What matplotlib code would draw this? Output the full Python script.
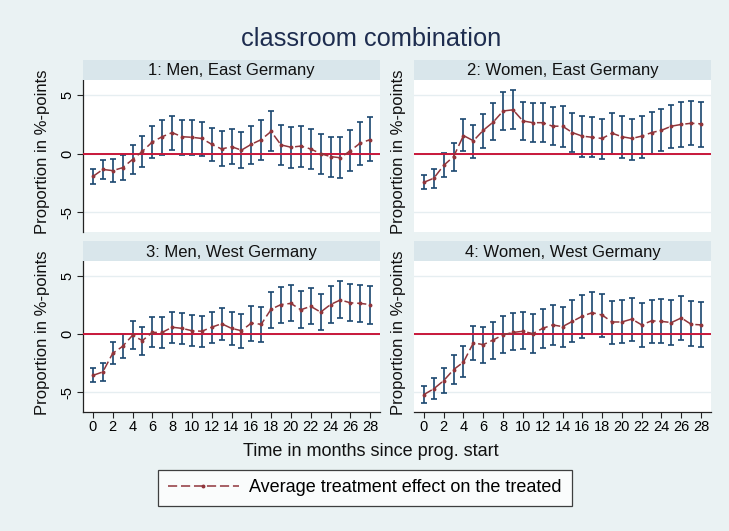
import numpy as np
import matplotlib
matplotlib.use("Agg")
import matplotlib.pyplot as plt
from matplotlib.lines import Line2D

plt.rcParams['font.family'] = ['Liberation Sans', 'DejaVu Sans']

months = list(range(29))
panel_titles = ["1: Men, East Germany", "2: Women, East Germany",
                "3: Men, West Germany", "4: Women, West Germany"]
title = "classroom combination"
xlabel = "Time in months since prog. start"
ylabel = "Proportion in %-points"
legend_label = "Average treatment effect on the treated"
yticks = [-5, 0, 5]
xticks = list(range(0, 29, 2))

ate_men_east = [-1.95, -1.35, -1.45, -1.2, -0.5, 0.2, 1.0, 1.45, 1.8, 1.45, 1.4, 1.3, 0.8, 0.4, 0.6,
                0.3, 0.8, 1.2, 1.9, 0.75, 0.55, 0.65, 0.4, 0.0, -0.25, -0.35, 0.25, 0.9, 1.2]
hi_men_east = [-1.3, -0.5, -0.45, -0.15, 0.7, 1.5, 2.35, 2.85, 3.25, 2.9, 2.85, 2.7, 2.2, 1.9, 2.1,
               1.85, 2.35, 2.85, 3.65, 2.45, 2.3, 2.4, 2.1, 1.7, 1.45, 1.45, 2.0, 2.7, 3.1]
lo_men_east = [-2.6, -2.15, -2.4, -2.25, -1.7, -1.1, -0.4, -0.1, 0.3, -0.1, -0.1, -0.2, -0.65, -1.05, -0.9,
               -1.25, -0.9, -0.5, 0.2, -1.0, -1.2, -1.1, -1.3, -1.7, -2.0, -2.05, -1.5, -0.95, -0.65]

ate_women_east = [-2.45, -2.1, -1.0, -0.25, 1.55, 1.1, 2.0, 2.7, 3.65, 3.75, 2.8, 2.65, 2.65, 2.35, 2.35,
                  1.8, 1.5, 1.4, 1.3, 1.75, 1.45, 1.3, 1.5, 1.8, 2.0, 2.35, 2.5, 2.6, 2.55]
hi_women_east = [-1.85, -1.3, 0.05, 0.9, 2.95, 2.45, 3.4, 4.3, 5.3, 5.45, 4.45, 4.3, 4.3, 4.0, 4.05,
                 3.45, 3.2, 3.1, 3.0, 3.5, 3.2, 3.0, 3.25, 3.6, 3.85, 4.2, 4.4, 4.5, 4.45]
lo_women_east = [-3.05, -2.95, -2.0, -1.45, 0.2, -0.35, 0.45, 1.15, 2.0, 2.1, 1.2, 1.0, 1.0, 0.7, 0.6,
                 0.1, -0.25, -0.3, -0.45, -0.05, -0.4, -0.5, -0.35, 0.0, 0.2, 0.45, 0.55, 0.7, 0.55]

ate_men_west = [-3.55, -3.25, -1.65, -1.05, -0.1, -0.55, 0.15, 0.15, 0.6, 0.5, 0.3, 0.25, 0.6, 0.9, 0.5,
                0.3, 0.95, 0.85, 2.15, 2.55, 2.65, 2.1, 2.4, 1.9, 2.55, 2.95, 2.7, 2.65, 2.55]
hi_men_west = [-2.95, -2.5, -0.7, 0.05, 1.1, 0.65, 1.45, 1.45, 1.9, 1.85, 1.65, 1.55, 1.9, 2.25, 1.9,
               1.75, 2.45, 2.35, 3.65, 4.05, 4.2, 3.7, 3.95, 3.45, 4.15, 4.55, 4.3, 4.25, 4.15]
lo_men_west = [-4.15, -4.0, -2.6, -2.05, -1.25, -1.75, -1.1, -1.15, -0.75, -0.85, -1.0, -1.1, -0.8, -0.5, -0.9,
               -1.15, -0.55, -0.65, 0.55, 1.0, 1.1, 0.55, 0.9, 0.35, 1.0, 1.35, 1.1, 1.05, 0.9]

ate_women_west = [-5.2, -4.7, -4.0, -3.05, -2.4, -0.75, -0.9, -0.5, -0.05, 0.15, 0.25, 0.05, 0.5, 0.8, 0.65,
                  1.1, 1.55, 1.85, 1.65, 1.05, 1.05, 1.3, 0.8, 1.15, 1.1, 1.0, 1.4, 0.85, 0.8]
hi_women_west = [-4.5, -3.75, -2.9, -1.8, -1.05, 0.7, 0.6, 1.05, 1.55, 1.85, 1.95, 1.7, 2.2, 2.55, 2.35,
                 2.9, 3.35, 3.65, 3.5, 2.85, 2.9, 3.15, 2.7, 2.95, 3.0, 2.9, 3.3, 2.85, 2.8]
lo_women_west = [-5.95, -5.6, -5.1, -4.25, -3.7, -2.2, -2.45, -2.1, -1.65, -1.4, -1.3, -1.6, -1.2, -0.9, -1.1,
                 -0.65, -0.3, 0.0, -0.25, -0.85, -0.8, -0.6, -1.1, -0.75, -0.75, -0.9, -0.5, -1.05, -1.1]

series = [(ate_men_east, lo_men_east, hi_men_east),
          (ate_women_east, lo_women_east, hi_women_east),
          (ate_men_west, lo_men_west, hi_men_west),
          (ate_women_west, lo_women_west, hi_women_west)]

BG = '#EAF2F3'
BAND = '#D9E6EB'
GRID = '#E6EEF1'
CI_COLOR = '#1A476F'
LINE_COLOR = '#90353B'
REF_COLOR = '#C8173A'
TITLE_COLOR = '#1E2D4F'

W, H = 729, 531
fig = plt.figure(figsize=(W / 100, H / 100), dpi=100, facecolor=BG)

# (left, right, band_top, plot_top, plot_bottom) in pixels
layout = [(83, 380, 60, 80, 232), (414, 711, 60, 80, 232),
          (83, 380, 241, 261, 412), (414, 711, 241, 261, 412)]

for i, (lx, rx, bt, pt, pb) in enumerate(layout):
    ax = fig.add_axes([lx / W, 1 - pb / H, (rx - lx) / W, (pb - pt) / H])
    ax.set_facecolor('white')
    ate, lo, hi = (np.array(v) for v in series[i])
    x = np.array(months)
    for y in yticks:
        ax.axhline(y, color=GRID, lw=1.0, zorder=1)
    ax.errorbar(x, ate, yerr=[ate - lo, hi - ate], fmt='none', ecolor=CI_COLOR,
                elinewidth=1.2, capsize=2.3, capthick=1.2, zorder=2)
    ax.axhline(0, color=REF_COLOR, lw=1.4, zorder=3)
    ax.plot(x, ate, color=LINE_COLOR, lw=1.1, ls=(0, (6, 2.5)), marker='o',
            markersize=1.8, zorder=4)
    ax.set_xlim(-1, 29)
    ax.set_ylim(-6.7, 6.3)
    for s in ax.spines.values():
        s.set_visible(False)
    left_col = i % 2 == 0
    bottom_row = i >= 2
    ax.set_yticks(yticks)
    if left_col:
        ax.spines['left'].set_visible(True)
        ax.spines['left'].set_color('#222222')
        ax.spines['left'].set_linewidth(0.9)
        ax.set_yticklabels([str(v) for v in yticks], rotation=90, va='center',
                           fontsize=10.5)
        ax.tick_params(axis='y', length=4, width=0.8, color='#222222', pad=2)
    else:
        ax.tick_params(axis='y', left=False, labelleft=False)
    ax.set_xticks(xticks)
    if bottom_row:
        ax.spines['bottom'].set_visible(True)
        ax.spines['bottom'].set_color('#222222')
        ax.spines['bottom'].set_linewidth(0.9)
        ax.set_xticklabels([str(v) for v in xticks], fontsize=10.5)
        ax.tick_params(axis='x', length=4, width=0.8, color='#222222', pad=2)
    else:
        ax.tick_params(axis='x', bottom=False, labelbottom=False)

    band = fig.add_axes([lx / W, 1 - pt / H, (rx - lx) / W, (pt - bt) / H])
    band.set_facecolor(BAND)
    band.set_xticks([]); band.set_yticks([])
    for s in band.spines.values():
        s.set_visible(False)
    band.text(0.5, 0.45, panel_titles[i], ha='center', va='center',
              fontsize=12, color='#111111', transform=band.transAxes)

    ylx = 43 if left_col else 399
    fig.text(ylx / W, 1 - ((pt + pb) / 2 - 4) / H, ylabel, rotation=90,
             ha='center', va='center', fontsize=12, color='#111111')

fig.text(371 / W, 1 - 39 / H, title, ha='center', va='center',
         fontsize=18.3, color=TITLE_COLOR)
fig.text(371 / W, 1 - 452 / H, xlabel, ha='center', va='center',
         fontsize=13, color='#111111')

handle = Line2D([], [], color=LINE_COLOR, lw=1.1, ls=(0, (6, 2.5)), marker='o',
                markersize=1.8)
leg = fig.legend([handle], [legend_label], loc='center',
                 bbox_to_anchor=(365 / W, 1 - 488 / H), fontsize=13,
                 frameon=True, fancybox=False, edgecolor='#111111',
                 facecolor='white', handlelength=3.9, handletextpad=0.6,
                 borderpad=0.55, borderaxespad=0, markerscale=1.0)
leg.get_frame().set_linewidth(0.9)

fig.savefig('out.png', dpi=100, facecolor=BG)
